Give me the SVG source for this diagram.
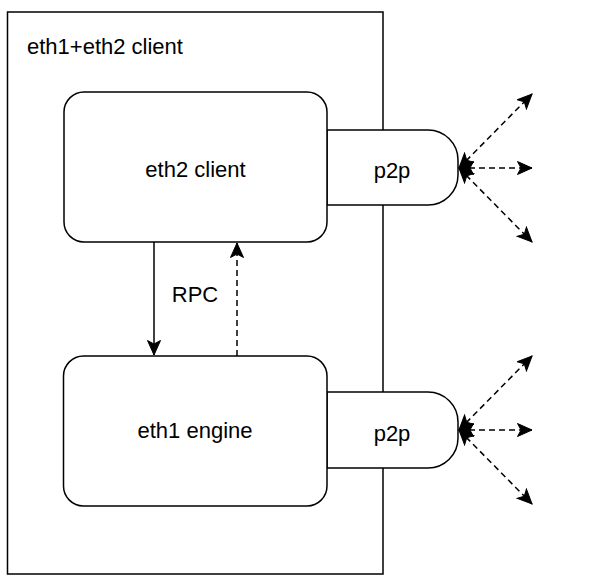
<svg xmlns="http://www.w3.org/2000/svg" width="591" height="585" viewBox="0 0 591 585">
<defs>
<style>
.shape{fill:#fff;stroke:#000;stroke-width:1.5}
.lbl{font-family:"Liberation Sans",Arial,sans-serif;font-size:22px;fill:#000}
.c{text-anchor:middle}
.edge{fill:none;stroke:#000;stroke-width:1.5}
.dash{stroke-dasharray:6 4}
</style>
<marker id="arr" markerUnits="userSpaceOnUse" markerWidth="18" markerHeight="16" refX="15" refY="7" orient="auto-start-reverse" viewBox="0 0 18 16">
<path d="M0.5,0.5 L15,7 L0.5,13.5 L4,7 Z" fill="#000" stroke="#000" stroke-width="1"/>
</marker>
</defs>
<rect width="591" height="585" fill="#fff"/>
<g id="outer">
<rect class="shape" x="7.5" y="12" width="375.5" height="562"/>
<text class="lbl" x="27" y="54">eth1+eth2 client</text>
</g>
<g id="p2p-top">
<path class="shape" d="M327,130 H428 A30,30 0 0 1 458,160 V175 A30,30 0 0 1 428,205 H327 Z"/>
<text class="lbl c" x="392" y="178">p2p</text>
</g>
<g id="p2p-bottom">
<path class="shape" d="M327,392 H428 A30,30 0 0 1 458,422 V438 A30,30 0 0 1 428,468 H327 Z"/>
<text class="lbl c" x="392" y="441">p2p</text>
</g>
<g id="eth2-client">
<rect class="shape" x="64" y="92" width="263" height="150" rx="20" ry="20"/>
<text class="lbl c" x="195.5" y="177">eth2 client</text>
</g>
<g id="eth1-engine">
<rect class="shape" x="63.5" y="356" width="263.5" height="150" rx="20" ry="20"/>
<text class="lbl c" x="195" y="438">eth1 engine</text>
</g>
<g id="connectors">
<line class="edge" x1="154" y1="242" x2="154" y2="355" marker-end="url(#arr)"/>
<line class="edge dash" x1="237" y1="356" x2="237" y2="243" marker-end="url(#arr)"/>
<text class="lbl c" x="195" y="302">RPC</text>
<line class="edge dash" x1="459" y1="168" x2="532" y2="94" marker-start="url(#arr)" marker-end="url(#arr)"/>
<line class="edge dash" x1="459" y1="168" x2="532" y2="168" marker-start="url(#arr)" marker-end="url(#arr)"/>
<line class="edge dash" x1="459" y1="168" x2="532" y2="242" marker-start="url(#arr)" marker-end="url(#arr)"/>
<line class="edge dash" x1="459" y1="430" x2="532" y2="356" marker-start="url(#arr)" marker-end="url(#arr)"/>
<line class="edge dash" x1="459" y1="430" x2="532" y2="430" marker-start="url(#arr)" marker-end="url(#arr)"/>
<line class="edge dash" x1="459" y1="430" x2="532" y2="504" marker-start="url(#arr)" marker-end="url(#arr)"/>
</g>
</svg>
